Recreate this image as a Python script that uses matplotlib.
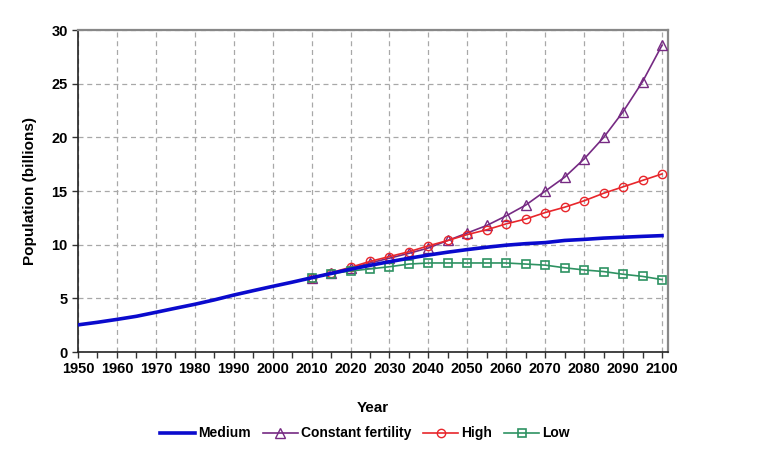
import matplotlib
matplotlib.use("Agg")
import matplotlib.pyplot as plt
import numpy as np

plt.rcParams['font.family'] = ['Liberation Sans', 'DejaVu Sans']

years_medium = list(range(1950, 2101, 5))
medium = [2.53, 2.77, 3.04, 3.33, 3.70, 4.08, 4.45, 4.86, 5.31, 5.72, 6.12, 6.51,
          6.92, 7.32, 7.72, 8.08, 8.42, 8.74, 9.04, 9.31, 9.55, 9.77, 9.96, 10.10,
          10.20, 10.40, 10.50, 10.62, 10.70, 10.78, 10.85]

years_proj = list(range(2010, 2101, 5))
constant = [6.92, 7.35, 7.80, 8.30, 8.75, 9.20, 9.70, 10.40, 11.10, 11.80, 12.70,
            13.70, 15.00, 16.30, 18.00, 20.00, 22.40, 25.20, 28.60]
high = [6.92, 7.40, 7.90, 8.45, 8.90, 9.35, 9.90, 10.40, 10.95, 11.40, 11.95,
        12.40, 13.00, 13.50, 14.10, 14.80, 15.40, 16.00, 16.60]
low = [6.92, 7.30, 7.55, 7.75, 7.95, 8.20, 8.30, 8.30, 8.30, 8.30, 8.30,
       8.20, 8.10, 7.85, 7.65, 7.50, 7.25, 7.05, 6.75]

fig = plt.figure(figsize=(7.65, 4.65), dpi=100)
ax = fig.add_axes([0.102, 0.243, 0.771, 0.692])

ax.plot(years_medium, medium, color='#0A0ACD', lw=2.6, label='Medium', zorder=5)
ax.plot(years_proj, constant, color='#762A83', lw=1.2, marker='^', ms=7,
        mfc='none', mec='#762A83', mew=1.0, label='Constant fertility', zorder=4)
ax.plot(years_proj, high, color='#E8262B', lw=1.2, marker='o', ms=6,
        mfc='none', mec='#E8262B', mew=1.0, label='High', zorder=4)
ax.plot(years_proj, low, color='#2E9262', lw=1.2, marker='s', ms=6,
        mfc='none', mec='#2E9262', mew=1.2, label='Low', zorder=4)

ax.set_xlim(1950, 2101.5)
ax.set_ylim(0, 30)
ax.set_xticks(range(1950, 2101, 10))
ax.set_xticks(range(1955, 2101, 10), minor=True)
ax.set_yticks(range(0, 31, 5))
ax.grid(True, which='major', color='#A8A8A8', ls=(0, (4, 3)), lw=0.9)
ax.tick_params(axis='both', which='both', direction='out', length=4, width=1,
               labelsize=10.5, color='#333333')
for lab in ax.get_xticklabels() + ax.get_yticklabels():
    lab.set_fontweight('bold')

for s in ['left', 'bottom']:
    ax.spines[s].set_color('#222222')
    ax.spines[s].set_linewidth(1.2)
for s in ['top', 'right']:
    ax.spines[s].set_color('#888888')
    ax.spines[s].set_linewidth(1.6)

ax.set_xlabel('Year', fontsize=11, fontweight='bold', labelpad=18)
ax.set_ylabel('Population (billions)', fontsize=11, fontweight='bold', labelpad=10)

leg = fig.legend(loc='center', bbox_to_anchor=(0.477, 0.068), ncol=4, frameon=False,
                 prop={'weight': 'bold', 'size': 10}, handlelength=2.5,
                 handletextpad=0.2, columnspacing=0.9)

fig.savefig('out.png', dpi=100)
